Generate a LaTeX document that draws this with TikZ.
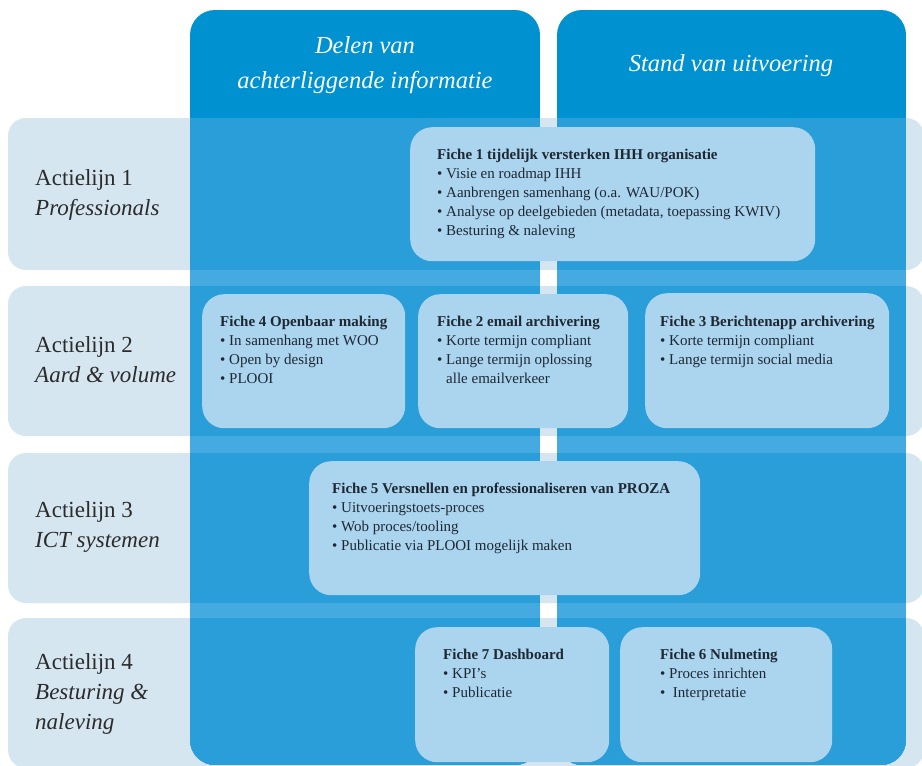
\documentclass[tikz,border=0pt]{standalone}
\usepackage{fontspec}
\setmainfont{Liberation Serif}
\definecolor{coldark}{HTML}{0091D1}
\definecolor{colrow}{HTML}{2A9ED8}
\definecolor{colgap}{HTML}{44AADF}
\definecolor{rowlight}{HTML}{D5E6F1}
\definecolor{fichefill}{HTML}{ABD4EE}
\definecolor{fichetxt}{HTML}{1E2833}
\definecolor{labeltxt}{HTML}{2B2B2B}
\begin{document}
\begin{tikzpicture}[x=1pt,y=-1pt,
  rowband/.style={fill=rowlight, rounded corners=18pt},
  colband/.style={rounded corners=25pt},
  header/.style={text=white, align=center, inner sep=0pt, font=\itshape\fontsize{24.5}{35}\selectfont},
  rowlabel/.style={text=labeltxt, align=left, anchor=west, inner sep=0pt, font=\fontsize{23}{30}\selectfont},
  fichebox/.style={fill=fichefill, rounded corners=22pt, inner sep=0pt, anchor=north west},
  fichetext/.style={text=fichetxt, align=left, anchor=north west, inner sep=0pt, font=\fontsize{15}{19}\selectfont}]
\useasboundingbox (0,0) rectangle (922,766);
\fill[white] (0,0) rectangle (922,766);
% action-line rows
\fill[rowband] (8,118) rectangle (924,270);
\fill[rowband] (8,286) rectangle (924,436);
\fill[rowband] (8,453) rectangle (924,603);
\fill[rowband] (8,618) rectangle (924,768);
% two columns
\foreach \xa/\xb in {190/540, 557/906} {
  \begin{scope}
    \path[clip, colband] (\xa,10) rectangle (\xb,765);
    \fill[coldark] (\xa,10) rectangle (\xb,765);
    \fill[colgap] (\xa,118) rectangle (\xb,765);
    \fill[colrow] (\xa,118) rectangle (\xb,270);
    \fill[colrow] (\xa,286) rectangle (\xb,436);
    \fill[colrow] (\xa,453) rectangle (\xb,603);
    \fill[colrow] (\xa,618) rectangle (\xb,765);
  \end{scope}
}
% headers
\node[header] (h1) at (365,65) {Delen van\\achterliggende informatie};
\node[header] (h2) at (731,66) {Stand van uitvoering};
% row labels
\node[rowlabel] (r1) at (35,195) {Actielijn 1\\\textit{Professionals}};
\node[rowlabel] (r2) at (35,360) {Actielijn 2\\\textit{Aard \& volume}};
\node[rowlabel] (r3) at (35,527) {Actielijn 3\\\textit{ICT systemen}};
\node[rowlabel] (r4) at (35,694) {Actielijn 4\\\textit{Besturing \&}\\\textit{naleving}};
% fiche boxes
\node[fichebox, minimum width=405pt, minimum height=134pt] (f1) at (410,127) {};
\node[fichebox, minimum width=203pt, minimum height=134pt] (f4) at (202,294) {};
\node[fichebox, minimum width=210pt, minimum height=134pt] (f2) at (418,294) {};
\node[fichebox, minimum width=244pt, minimum height=135pt] (f3) at (645,293) {};
\node[fichebox, minimum width=391pt, minimum height=134pt] (f5) at (309,461) {};
\node[fichebox, minimum width=194pt, minimum height=135pt] (f7) at (415,627) {};
\node[fichebox, minimum width=212pt, minimum height=135pt] (f6) at (620,627) {};
% fiche texts
\node[fichetext] (t1) at (437,149) {\textbf{Fiche 1 tijdelijk versterken IHH organisatie}\\
\textbullet\ Visie en roadmap IHH\\
\textbullet\ Aanbrengen samenhang (o.a. WAU/POK)\\
\textbullet\ Analyse op deelgebieden (metadata, toepassing KWIV)\\
\textbullet\ Besturing \& naleving};
\node[fichetext] (t4) at (220,316) {\textbf{Fiche 4 Openbaar making}\\
\textbullet\ In samenhang met WOO\\
\textbullet\ Open by design\\
\textbullet\ PLOOI};
\node[fichetext] (t2) at (437,316) {\textbf{Fiche 2 email archivering}\\
\textbullet\ Korte termijn compliant\\
\textbullet\ Lange termijn oplossing\\
\hphantom{\textbullet\ }alle emailverkeer};
\node[fichetext] (t3) at (660,316) {\textbf{Fiche 3 Berichtenapp archivering}\\
\textbullet\ Korte termijn compliant\\
\textbullet\ Lange termijn social media};
\node[fichetext] (t5) at (332,483) {\textbf{Fiche 5 Versnellen en professionaliseren van PROZA}\\
\textbullet\ Uitvoeringstoets-proces\\
\textbullet\ Wob proces/tooling\\
\textbullet\ Publicatie via PLOOI mogelijk maken};
\node[fichetext] (t7) at (443,649) {\textbf{Fiche 7 Dashboard}\\
\textbullet\ KPI’s\\
\textbullet\ Publicatie};
\node[fichetext] (t6) at (660,649) {\textbf{Fiche 6 Nulmeting}\\
\textbullet\ Proces inrichten\\
\textbullet\ \ Interpretatie};
\end{tikzpicture}
\end{document}
